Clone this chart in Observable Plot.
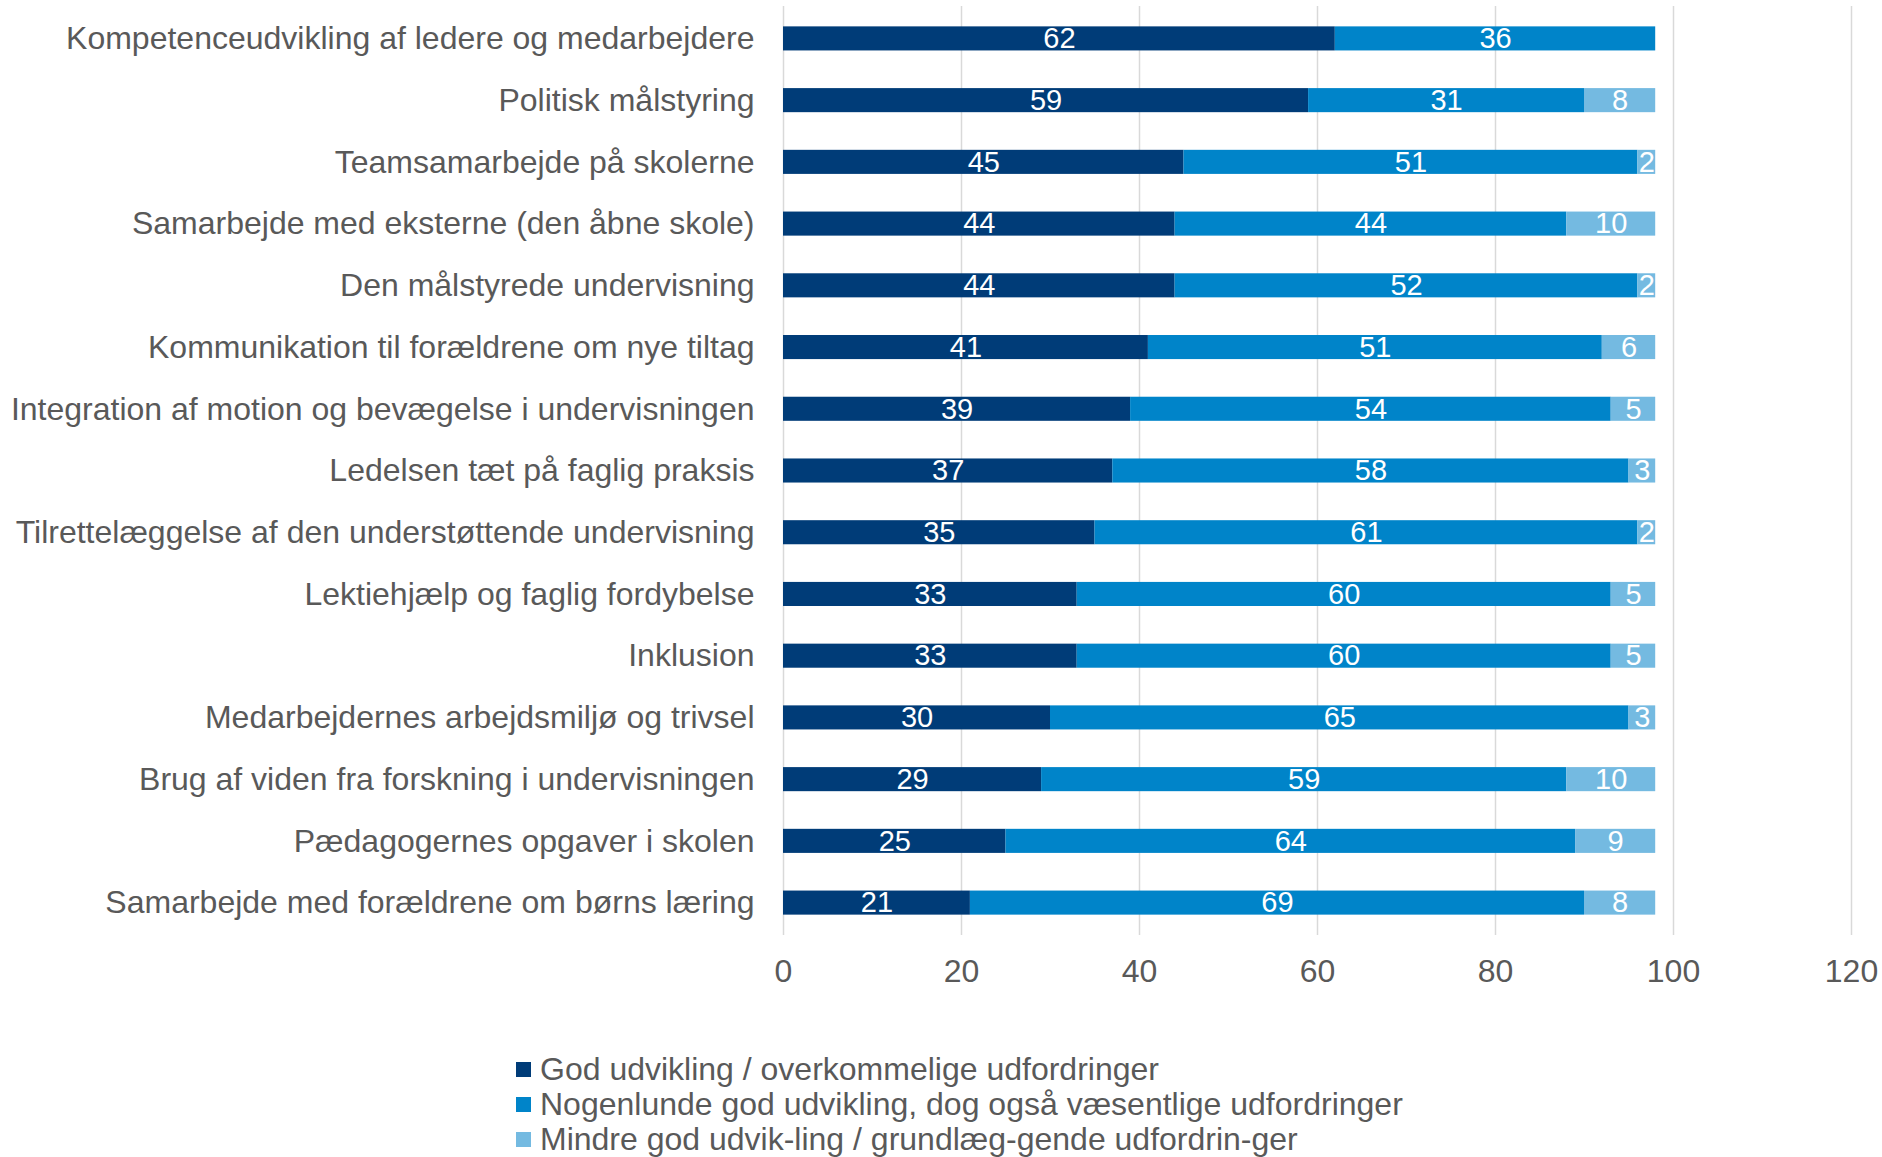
<!DOCTYPE html>
<html>
<head>
<meta charset="utf-8">
<script src="https://cdn.jsdelivr.net/npm/d3@7"></script>
<script src="https://cdn.jsdelivr.net/npm/@observablehq/plot@0.6"></script>
<style>
  html, body { margin: 0; padding: 0; background: #fff; }
  body { width: 1882px; font-family: "Liberation Sans", Arial, sans-serif; }
  #legend { margin-left: 516px; margin-top: 42px; color: #595959; font-size: 32px; }
  #legend .item { display: flex; align-items: center; height: 35px; }
  #legend .sw { width: 15px; height: 15px; margin-right: 9px; }
</style>
</head>
<body>
<div id="chart"></div>
<div id="legend"></div>
<script>
const categories = [
  "Kompetenceudvikling af ledere og medarbejdere",
  "Politisk målstyring",
  "Teamsamarbejde på skolerne",
  "Samarbejde med eksterne (den åbne skole)",
  "Den målstyrede undervisning",
  "Kommunikation til forældrene om nye tiltag",
  "Integration af motion og bevægelse i undervisningen",
  "Ledelsen tæt på faglig praksis",
  "Tilrettelæggelse af den understøttende undervisning",
  "Lektiehjælp og faglig fordybelse",
  "Inklusion",
  "Medarbejdernes arbejdsmiljø og trivsel",
  "Brug af viden fra forskning i undervisningen",
  "Pædagogernes opgaver i skolen",
  "Samarbejde med forældrene om børns læring"
];
const seriesNames = [
  "God udvikling / overkommelige udfordringer",
  "Nogenlunde god udvikling, dog også væsentlige udfordringer",
  "Mindre god udvik-ling / grundlæg-gende udfordrin-ger"
];
const godValues        = [62, 59, 45, 44, 44, 41, 39, 37, 35, 33, 33, 30, 29, 25, 21];
const nogenlundeValues = [36, 31, 51, 44, 52, 51, 54, 58, 61, 60, 60, 65, 59, 64, 69];
const mindreValues     = [0, 8, 2, 10, 2, 6, 5, 3, 2, 5, 5, 3, 10, 9, 8];
const xTicks = [0, 20, 40, 60, 80, 100, 120];
const colors = ["#003C78", "#0084C9", "#74BAE1"];

const seriesValues = [godValues, nogenlundeValues, mindreValues];
const data = [];
categories.forEach((c, i) => {
  seriesNames.forEach((s, j) => {
    data.push({cat: c, series: s, value: seriesValues[j][i]});
  });
});

const chart = Plot.plot({
  width: 1882,
  height: 1010,
  marginLeft: 783,
  marginRight: 31,
  marginTop: 6,
  marginBottom: 75,
  style: {fontFamily: "Liberation Sans, Arial, sans-serif", fontSize: "32px", color: "#595959", background: "#fff"},
  x: {domain: [0, 120], ticks: xTicks, grid: false, label: null},
  y: {domain: categories, paddingInner: 0.61, paddingOuter: 0.33, round: false, label: null},
  color: {domain: seriesNames, range: colors},
  marks: [
    Plot.gridX(xTicks, {stroke: "#d9d9d9", strokeOpacity: 1, strokeWidth: 1.5}),
    Plot.barX(data, Plot.stackX({x: "value", y: "cat", fill: "series", z: "series", order: seriesNames, inset: 0})),
    Plot.text(data, Plot.stackX({
      x: "value", y: "cat", z: "series", order: seriesNames,
      text: d => d.value > 0 ? String(d.value) : "",
      fill: "white", fontSize: 29
    })),
    Plot.axisX(xTicks, {tickSize: 0, tickPadding: 24, fontSize: 32, fill: "#595959", label: null}),
    Plot.axisY({tickSize: 0, tickPadding: 29, fontSize: 32, fill: "#595959", label: null})
  ]
});
document.getElementById("chart").appendChild(chart);

const legend = document.getElementById("legend");
seriesNames.forEach((s, i) => {
  const item = document.createElement("div");
  item.className = "item";
  const sw = document.createElement("span");
  sw.className = "sw";
  sw.style.background = colors[i];
  const t = document.createElement("span");
  t.textContent = s;
  item.appendChild(sw);
  item.appendChild(t);
  legend.appendChild(item);
});
</script>
</body>
</html>
